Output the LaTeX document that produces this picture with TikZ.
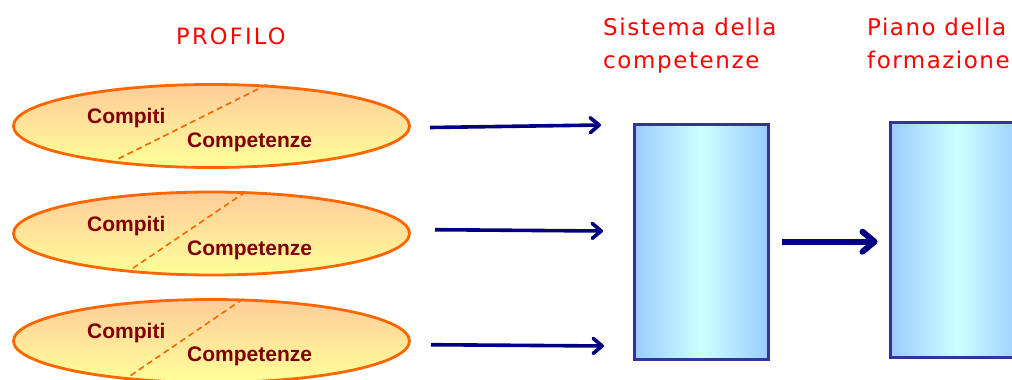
\documentclass[tikz,border=0pt]{standalone}
\usepackage{fontspec}
\usetikzlibrary{shapes.geometric,arrows.meta}
\newfontfamily\labfont{Liberation Sans}
\newfontfamily\titfont{DejaVu Sans}
\definecolor{ellline}{HTML}{FF6600}
\definecolor{elltop}{HTML}{FFCC99}
\definecolor{ellbot}{HTML}{FFFF99}
\definecolor{labred}{HTML}{800000}
\definecolor{titred}{HTML}{FF0000}
\definecolor{boxline}{HTML}{333399}
\definecolor{boxedge}{HTML}{99CCFF}
\definecolor{boxmid}{HTML}{CCFFFF}
\definecolor{navy}{HTML}{000080}
\tikzset{
  oval/.style={ellipse, draw=ellline, line width=2.8pt, top color=elltop, bottom color=ellbot,
    minimum width=396pt, minimum height=83pt, inner sep=0pt},
  divider/.style={draw=ellline, line width=1.6pt, dash pattern=on 6pt off 4pt},
  lab/.style={anchor=base west, inner sep=0pt, text=labred, font=\labfont\bfseries\fontsize{21}{21}\selectfont},
  title/.style={anchor=base west, inner sep=0pt, text=titred},
  column/.style={rectangle, anchor=north west, draw=boxline, line width=3.4pt,
    left color=boxedge, right color=boxedge, middle color=boxmid,
    minimum width=134pt, minimum height=235pt, inner sep=0pt},
  thinarrow/.style={draw=navy, line width=3.6pt, -{Straight Barb[length=9pt,width=15pt,round]}},
  thickarrow/.style={draw=navy, line width=6pt, -{Straight Barb[length=12pt,width=20pt,round]}},
}
\begin{document}
\begin{tikzpicture}[x=1pt,y=-1pt]
\useasboundingbox (0,0) rectangle (1012,380);
% titles
\node[title, font=\titfont\fontsize{22.5}{22.5}\selectfont\addfontfeature{LetterSpace=10}] (tprof) at (176,44) {PROFILO};
\node[title, font=\titfont\fontsize{23}{23}\selectfont\addfontfeature{LetterSpace=7}] (tsis1) at (603,35) {Sistema della};
\node[title, font=\titfont\fontsize{23}{23}\selectfont\addfontfeature{LetterSpace=7}] (tsis2) at (603,68) {competenze};
\node[title, font=\titfont\fontsize{23}{23}\selectfont\addfontfeature{LetterSpace=6.5}] (tpia1) at (867,35) {Piano della};
\node[title, font=\titfont\fontsize{23}{23}\selectfont\addfontfeature{LetterSpace=6.5}] (tpia2) at (867,68) {formazione};
% ellipses
\node[oval] (e1) at (211.5,126) {};
\node[oval] (e2) at (211.5,233.5) {};
\node[oval] (e3) at (211.5,341) {};
\draw[divider] (267,84.5) -- (115,160.5);
\draw[divider] (245.5,192) -- (128,271.5);
\draw[divider] (243,299) -- (124,380);
\node[lab] (c1) at (87,123.3) {Compiti};
\node[lab] (k1) at (187,147.3) {Competenze};
\node[lab] (c2) at (87,231.5) {Compiti};
\node[lab] (k2) at (187,255) {Competenze};
\node[lab] (c3) at (87,338.3) {Compiti};
\node[lab] (k3) at (187,361.7) {Competenze};
% columns
\node[column] (b1) at (632.5,122.5) {};
\node[column] (b2) at (888.5,120.5) {};
% arrows
\coordinate (s1) at (430,127.5);
\coordinate (t1) at (601,125);
\coordinate (s2) at (435,229.7);
\coordinate (t2) at (603,231);
\coordinate (s3) at (431,344.7);
\coordinate (t3) at (604,346);
\draw[thinarrow] (s1) -- (t1);
\draw[thinarrow] (s2) -- (t2);
\draw[thinarrow] (s3) -- (t3);
\draw[thickarrow] ([xshift=12pt]b1.east) -- ([xshift=-11pt]b1.east -| b2.west);
\end{tikzpicture}
\end{document}
